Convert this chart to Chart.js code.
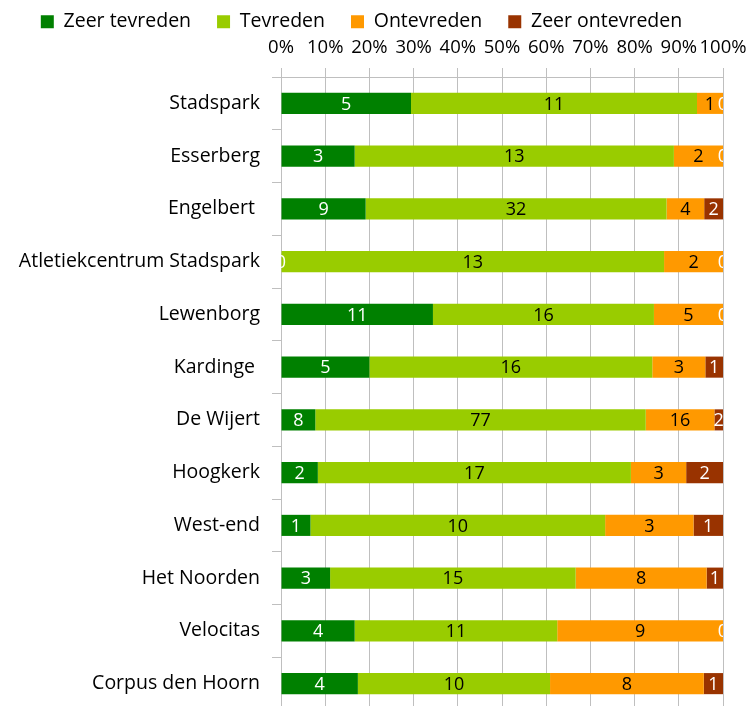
<!DOCTYPE html>
<html>
<head>
<meta charset="utf-8">
<script src="https://cdn.jsdelivr.net/npm/chart.js@4.4.1/dist/chart.umd.min.js"></script>
<style>
  html, body { margin: 0; padding: 0; background: #fff; overflow: hidden; }
  #wrap { width: 751px; height: 710px; }
</style>
</head>
<body>
<div id="wrap"><canvas id="chart"></canvas></div>
<script>
// categorieen en aantallen per antwoord
const categories = ['Stadspark', 'Esserberg', 'Engelbert ', 'Atletiekcentrum Stadspark', 'Lewenborg', 'Kardinge ',
  'De Wijert', 'Hoogkerk', 'West-end', 'Het Noorden', 'Velocitas', 'Corpus den Hoorn'];
const zeerTevreden   = [5, 3, 9, 0, 11, 5, 8, 2, 1, 3, 4, 4];
const tevreden       = [11, 13, 32, 13, 16, 16, 77, 17, 10, 15, 11, 10];
const ontevreden     = [1, 2, 4, 2, 5, 3, 16, 3, 3, 8, 9, 8];
const zeerOntevreden = [0, 0, 2, 0, 0, 1, 2, 2, 1, 1, 0, 1];
const xTicks = [0, 10, 20, 30, 40, 50, 60, 70, 80, 90, 100];

const series = [
  { label: 'Zeer tevreden', counts: zeerTevreden, color: '#008000', text: '#ffffff' },
  { label: 'Tevreden', counts: tevreden, color: '#99CC00', text: '#000000' },
  { label: 'Ontevreden', counts: ontevreden, color: '#FF9900', text: '#000000' },
  { label: 'Zeer ontevreden', counts: zeerOntevreden, color: '#993300', text: '#ffffff' }
];

const totals = categories.map((c, i) => series.reduce((s, d) => s + d.counts[i], 0));
const FONT = '"Open Sans", sans-serif';
const PLOT_TOP = 77;
const PAD_TOP = -14;

// labels met aantallen midden in elk stuk
const labelPlugin = {
  id: 'aantallen',
  afterDatasetsDraw(chart) {
    const ctx = chart.ctx;
    const area = chart.chartArea;
    ctx.save();
    ctx.beginPath();
    ctx.rect(area.left, area.top, area.right - area.left, area.bottom - area.top);
    ctx.clip();
    ctx.font = '18px ' + FONT;
    ctx.textAlign = 'center';
    ctx.textBaseline = 'middle';
    chart.data.datasets.forEach((ds, di) => {
      const meta = chart.getDatasetMeta(di);
      meta.data.forEach((bar, i) => {
        const x = (bar.x + bar.base) / 2;
        ctx.fillStyle = series[di].text;
        ctx.fillText(String(series[di].counts[i]), x, bar.y + 1);
      });
    });
    ctx.restore();
  }
};

new Chart(document.getElementById('chart'), {
  type: 'bar',
  data: {
    labels: categories,
    datasets: series.map(s => ({
      label: s.label,
      data: s.counts.map((v, i) => v / totals[i] * 100),
      backgroundColor: s.color,
      borderWidth: 0,
      barPercentage: 0.4,
      categoryPercentage: 1
    }))
  },
  options: {
    indexAxis: 'y',
    responsive: true,
    maintainAspectRatio: false,
    animation: false,
    layout: { padding: { left: 0, right: 28, top: PAD_TOP, bottom: 0 } },
    plugins: {
      legend: {
        position: 'top',
        align: 'center',
        maxHeight: 44,
        labels: {
          boxWidth: 13,
          boxHeight: 13,
          padding: 26,
          color: '#000',
          font: { family: FONT, size: 19.5 }
        }
      },
      tooltip: { enabled: false }
    },
    scales: {
      x: {
        position: 'top',
        stacked: true,
        min: 0,
        max: 100,
        afterBuildTicks(scale) { scale.ticks = xTicks.map(v => ({ value: v })); },
        afterFit(scale) {
          scale.height = PLOT_TOP - PAD_TOP - scale.chart.legend.height;
          scale.paddingLeft = 0;
          scale.paddingRight = 0;
        },
        ticks: {
          color: '#000',
          font: { family: FONT, size: 18.5 },
          padding: 9,
          autoSkip: false,
          maxRotation: 0,
          callback: v => v + '%'
        },
        grid: { color: '#BFBFBF', tickLength: 9, lineWidth: 1 },
        border: { color: '#BFBFBF' }
      },
      y: {
        stacked: true,
        afterFit(scale) {
          scale.width = 281;
          scale.paddingTop = 0;
          scale.paddingBottom = 0;
        },
        ticks: {
          color: '#000',
          font: { family: FONT, size: 19.5 },
          padding: 12
        },
        grid: { offset: true, drawOnChartArea: false, color: '#BFBFBF', tickLength: 9 },
        border: { color: '#BFBFBF' }
      }
    }
  },
  plugins: [labelPlugin]
});
</script>
</body>
</html>
